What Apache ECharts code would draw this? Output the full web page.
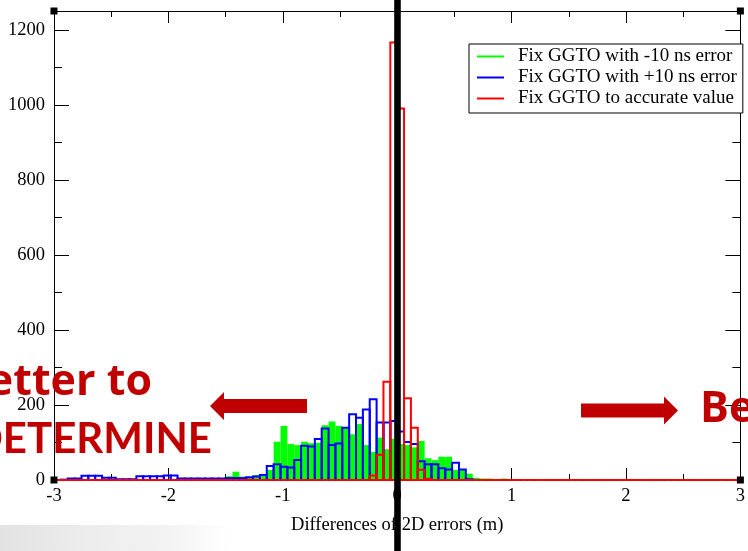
<!DOCTYPE html>
<html>
<head>
<meta charset="utf-8">
<script src="https://cdn.jsdelivr.net/npm/echarts@6.0.0/dist/echarts.min.js"></script>
<style>
html,body{margin:0;padding:0;background:#fff;}
#chart{width:748px;height:551px;}
</style>
</head>
<body>
<div id="chart"></div>
<script>
// Histogram bins: start and width (m)
const binStart = -3;
const binWidth = 0.06;

const seriesNames = [
  'Fix GGTO with -10 ns error',
  'Fix GGTO with +10 ns error',
  'Fix GGTO to accurate value'
];
const seriesColors = ['#00ff00', '#0000ff', '#ff0000'];

// counts per bin (100 bins, -3 .. 3)
const countsMinus10 = [
  0,0,0,0,0,0,0,0,0,0,
  0,0,0,0,0,0,0,0,0,0,
  0,0,0,0,3,10,22,9,8,13,
  16,27,102,144,96,93,102,98,99,146,
  156,144,138,122,149,93,75,113,82,110,
  96,93,87,104,58,53,62,62,27,27,
  17,6,4,4,0,4,0,0,0,0,
  0,0,0,0,0,0,0,0,0,0,
  0,0,0,0,0,0,0,0,0,0,
  0,0,0,0,0,0,0,0,0,0
];
const countsPlus10 = [
  0,1,4,4,11,11,11,6,6,2,
  2,2,10,10,10,10,12,12,4,4,
  4,4,4,4,4,5,5,5,7,9,
  13,37,42,35,33,53,91,89,109,137,
  93,97,139,175,166,188,215,153,153,157,
  129,101,96,50,42,42,31,28,46,28,
  2,0,0,0,0,0,0,0,0,0,
  0,0,0,0,0,0,0,0,0,0,
  0,0,0,0,0,0,0,0,0,0,
  0,0,0,0,0,0,0,0,0,0
];
const countsAccurate = [
  0,0,0,0,0,0,0,0,0,0,
  0,0,0,0,0,0,0,0,0,0,
  0,0,0,0,0,0,0,0,0,0,
  0,0,0,0,0,0,0,0,0,0,
  0,0,0,0,0,0,12,67,262,1166,
  990,218,139,27,3,0,0,0,0,0,
  0,0,0,0,0,0,0,0,0,0,
  0,0,0,0,0,0,0,0,0,0,
  0,0,0,0,0,0,0,0,0,0,
  0,0,0,0,0,0,0,0,0,0
];

const xTicks = { min: -3, max: 3, interval: 1 };
const yTicks = { min: 0, max: 1250, interval: 200, minor: 100 };
const xName = 'Differences of 2D errors (m)';
const noteLeft1 = 'Better to';
const noteLeft2 = 'DETERMINE';
const noteRight = 'Be';

function toData(counts) {
  return counts.map(function (c, i) {
    const x0 = +(binStart + i * binWidth).toFixed(4);
    const x1 = +(binStart + (i + 1) * binWidth).toFixed(4);
    return [x0, x1, c];
  });
}

function renderer(color, filled) {
  return function (params, api) {
    const a = api.coord([api.value(0), 0]);
    const b = api.coord([api.value(1), api.value(2)]);
    const shape = { x: a[0], y: b[1], width: b[0] - a[0], height: a[1] - b[1] };
    if (filled) {
      if (api.value(2) <= 0) return null;
      return { type: 'rect', shape: shape, style: { fill: color } };
    }
    return { type: 'rect', shape: shape, style: { fill: 'none', stroke: color, lineWidth: 2 } };
  };
}

const serif = 'Liberation Serif';
const chart = echarts.init(document.getElementById('chart'), null, { renderer: 'canvas' });

const commonX = {
  type: 'value', min: xTicks.min, max: xTicks.max, interval: xTicks.interval,
  splitLine: { show: false },
  axisLine: { show: true, onZero: false, lineStyle: { color: '#000', width: 1 } },
  axisTick: { show: true, inside: true, length: 12, lineStyle: { color: '#000' } },
  minorTick: { show: true, splitNumber: 2, length: 6, lineStyle: { color: '#000' } }
};
function yAx(pos, interval, len, labels, line) {
  return {
    type: 'value', position: pos, min: yTicks.min, max: yTicks.max, interval: interval,
    splitLine: { show: false },
    axisLine: { show: line, onZero: false, lineStyle: { color: '#000', width: 1 } },
    axisTick: { show: true, inside: true, length: len, lineStyle: { color: '#000' } },
    axisLabel: labels ? { show: true, showMaxLabel: false, margin: 9, color: '#000', fontFamily: serif, fontSize: 18.5,
      formatter: function (v) { return String(v); } } : { show: false }
  };
}

const option = {
  animation: false,
  backgroundColor: '#ffffff',
  grid: { left: 54, right: 4, top: 11, bottom: 71, containLabel: false },
  xAxis: [
    Object.assign({}, commonX, {
      position: 'bottom', name: xName, nameLocation: 'middle', nameGap: 36,
      nameTextStyle: { color: '#000', fontFamily: serif, fontSize: 18.5 },
      axisLabel: { show: true, margin: 7, color: '#000', fontFamily: serif, fontSize: 18.5,
        formatter: function (v) { return String(v); } }
    }),
    Object.assign({}, commonX, { position: 'top', axisLabel: { show: false } })
  ],
  yAxis: [
    yAx('left', yTicks.interval, 15, true, true),
    yAx('left', yTicks.minor, 8, false, false),
    yAx('right', yTicks.interval, 15, false, true),
    yAx('right', yTicks.minor, 8, false, false)
  ],
  legend: {
    show: true, orient: 'vertical', left: 469, top: 44,
    backgroundColor: '#fff', borderColor: '#000', borderWidth: 1,
    padding: [2, 6, 4, 8], itemGap: 0, itemWidth: 27, itemHeight: 2, icon: 'rect',
    textStyle: { color: '#000', fontFamily: serif, fontSize: 19, lineHeight: 21, padding: [0, 0, 0, 9] },
    data: seriesNames.map(function (n, i) { return { name: n, itemStyle: { color: seriesColors[i] } }; })
  },
  series: [
    { name: seriesNames[0], type: 'custom', xAxisIndex: 0, yAxisIndex: 0, z: 2,
      renderItem: renderer(seriesColors[0], true), encode: { x: [0, 1], y: 2 },
      itemStyle: { color: seriesColors[0] }, data: toData(countsMinus10) },
    { name: seriesNames[1], type: 'custom', xAxisIndex: 0, yAxisIndex: 0, z: 3,
      renderItem: renderer(seriesColors[1], false), encode: { x: [0, 1], y: 2 },
      itemStyle: { color: seriesColors[1] }, data: toData(countsPlus10) },
    { name: seriesNames[2], type: 'custom', xAxisIndex: 0, yAxisIndex: 0, z: 4,
      renderItem: renderer(seriesColors[2], false), encode: { x: [0, 1], y: 2 },
      itemStyle: { color: seriesColors[2] }, data: toData(countsAccurate) }
  ]
};
chart.setOption(option);

// overlay annotations positioned via the chart's own scales
const zeroX = chart.convertToPixel({ xAxisIndex: 0 }, 0);
const bl = chart.convertToPixel({ xAxisIndex: 0, yAxisIndex: 0 }, [xTicks.min, yTicks.min]);
const tr = chart.convertToPixel({ xAxisIndex: 0, yAxisIndex: 0 }, [xTicks.max, yTicks.max]);
const darkRed = '#c00000';
const sq = 7;
function corner(x, y) {
  return { type: 'rect', z: 50, shape: { x: x - sq / 2, y: y - sq / 2, width: sq, height: sq }, style: { fill: '#000' } };
}
chart.setOption({
  graphic: [
    { type: 'rect', z: 1, silent: true, shape: { x: 0, y: 525, width: 250, height: 26 },
      style: { fill: new echarts.graphic.LinearGradient(0, 0, 1, 0, [
        { offset: 0, color: 'rgba(215,215,215,0.7)' }, { offset: 0.7, color: 'rgba(232,232,232,0.5)' }, { offset: 1, color: 'rgba(255,255,255,0)' }]) } },
    { type: 'rect', z: 60, shape: { x: zeroX - 3, y: 0, width: 6.6, height: 551 }, style: { fill: '#000' } },
    corner(bl[0], bl[1]), corner(bl[0], tr[1]), corner(tr[0], tr[1]), corner(tr[0], bl[1]),
    { type: 'polygon', z: 70, shape: { points: [[210, 406], [224, 392], [224, 399], [307, 399], [307, 413], [224, 413], [224, 420]] }, style: { fill: darkRed } },
    { type: 'polygon', z: 70, shape: { points: [[678, 410.5], [664, 396.5], [664, 403.5], [581, 403.5], [581, 417.5], [664, 417.5], [664, 424.5]] }, style: { fill: darkRed } },
    { type: 'text', z: 70, style: { text: noteLeft1, x: 152, y: 404, align: 'right', verticalAlign: 'bottom', fill: darkRed, font: 'bold 43px "Open Sans"' } },
    { type: 'text', z: 70, style: { text: noteLeft2, x: 212, y: 460, align: 'right', verticalAlign: 'bottom', fill: darkRed, font: 'bold 42px Lato' } },
    { type: 'text', z: 70, style: { text: noteRight, x: 700, y: 431, align: 'left', verticalAlign: 'bottom', fill: darkRed, font: 'bold 43px "Open Sans"' } }
  ]
});
</script>
</body>
</html>
